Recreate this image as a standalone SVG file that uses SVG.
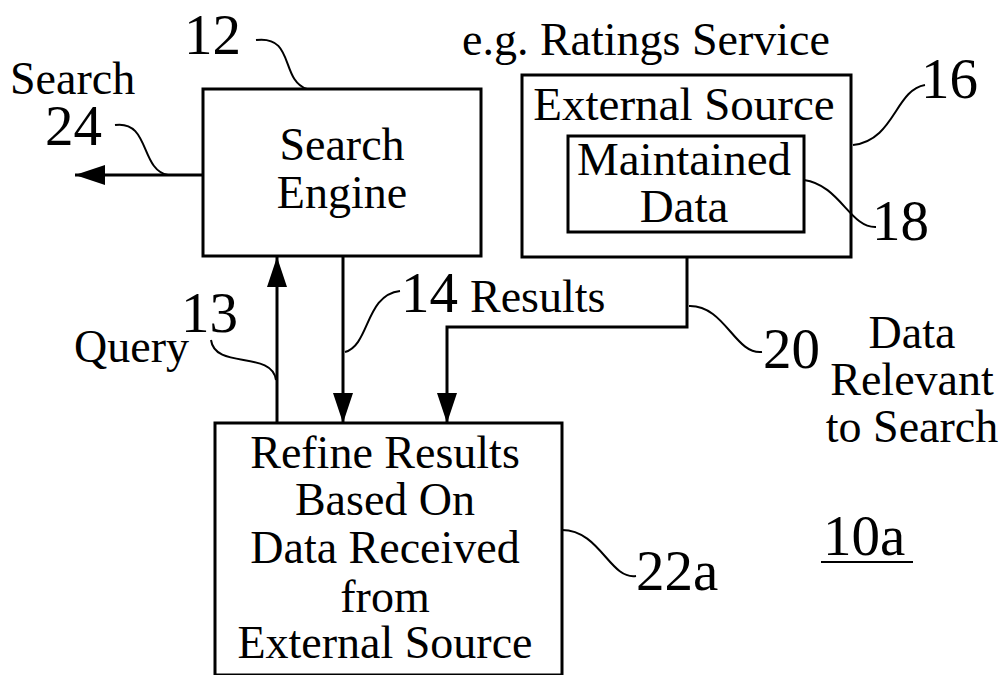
<svg xmlns="http://www.w3.org/2000/svg" width="1006" height="675" viewBox="0 0 1006 675">
<defs>
<style>
.box{fill:none;stroke:#000;stroke-width:3}
.ln{fill:none;stroke:#000;stroke-width:3}
.ld{fill:none;stroke:#000;stroke-width:2}
text{font-family:"Liberation Serif","Times New Roman",serif;fill:#000}
.t{font-size:46px}
.n{font-size:57px}
.c{text-anchor:middle}
</style>
<marker id="arr" viewBox="0 0 30 20" refX="30" refY="10" markerWidth="30" markerHeight="20" markerUnits="userSpaceOnUse" orient="auto">
<path d="M0,0 L30,10 L0,20 z" fill="#000"/>
</marker>
</defs>
<rect width="1006" height="675" fill="#fff"/>
<g id="connectors">
<line class="ln" x1="203" y1="175" x2="75" y2="175" marker-end="url(#arr)"/>
<line class="ln" x1="277" y1="423" x2="277" y2="257" marker-end="url(#arr)"/>
<line class="ln" x1="343" y1="256" x2="343" y2="423" marker-end="url(#arr)"/>
<polyline class="ln" points="687,257 687,327 447,327 447,423" marker-end="url(#arr)"/>
</g>
<g id="search-engine">
<rect class="box" x="203" y="89" width="278" height="167"/>
<text class="t c" x="342" y="160">Search</text>
<text class="t c" x="342" y="208">Engine</text>
</g>
<g id="external-source">
<rect class="box" x="522" y="75" width="329" height="182"/>
<text class="t c" style="font-size:47px" x="684" y="120">External Source</text>
</g>
<g id="maintained-data">
<rect class="box" x="568" y="136" width="236" height="96"/>
<text class="t c" style="font-size:47px" x="684" y="175">Maintained</text>
<text class="t c" style="font-size:47px" x="684" y="222">Data</text>
</g>
<g id="refine">
<rect class="box" x="215" y="423" width="347" height="252"/>
<text class="t c" x="385" y="468">Refine Results</text>
<text class="t c" x="385" y="515">Based On</text>
<text class="t c" x="385" y="563">Data Received</text>
<text class="t c" x="385" y="612">from</text>
<text class="t c" x="385" y="658">External Source</text>
</g>
<g id="labels">
<text class="t" x="10" y="94">Search</text>
<text class="t" x="462" y="55">e.g. Ratings Service</text>
<text class="n" x="45" y="145">24</text>
<path class="ld" d="M115,125 C150,120 140,170 168,175"/>
<text class="n" x="184" y="54">12</text>
<path class="ld" d="M256,40 C295,35 280,80 307,89"/>
<text class="n" x="921" y="98">16</text>
<path class="ld" d="M853,145 C895,140 895,90 925,85"/>
<text class="n" x="872" y="240">18</text>
<path class="ld" d="M804,180 C840,185 850,228 876,227"/>
<text class="n" x="181" y="332">13</text>
<text class="t" x="74" y="362">Query</text>
<path class="ld" d="M211,340 C215,370 272,350 276,380"/>
<text class="n" x="401" y="312">14</text>
<text class="t" x="470" y="312">Results</text>
<path class="ld" d="M400,291 C365,295 370,345 345,352"/>
<text class="n" x="763" y="368">20</text>
<path class="ld" d="M689,306 C725,305 735,355 762,352"/>
<text class="t c" x="912" y="348">Data</text>
<text class="t c" x="912" y="395">Relevant</text>
<text class="t c" x="912" y="442">to Search</text>
<text class="n" x="636" y="590">22a</text>
<path class="ld" d="M562,530 C600,530 610,580 636,576"/>
<text class="n" x="823" y="555">10a</text>
<line class="ld" x1="821" y1="562" x2="913" y2="562"/>
</g>
</svg>
